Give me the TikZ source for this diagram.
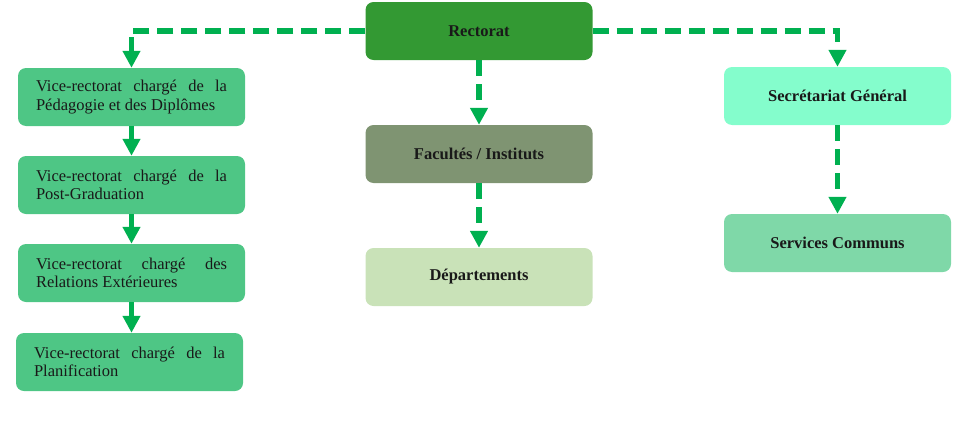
\documentclass[tikz,border=0pt]{standalone}
\usepackage{fontspec}
\setmainfont{Liberation Serif}
\usetikzlibrary{arrows.meta}
\definecolor{linkgreen}{HTML}{00B050}
\definecolor{rectgreen}{HTML}{339933}
\definecolor{facgreen}{HTML}{7F9472}
\definecolor{depgreen}{HTML}{C9E2B8}
\definecolor{vicegreen}{HTML}{4EC685}
\definecolor{sggreen}{HTML}{84FDCC}
\definecolor{scgreen}{HTML}{7FD8A8}
\newcommand\vicefont{\fontsize{16.5}{18.5}\selectfont\hyphenchar\font=-1\relax\tolerance=10000\relax}
\tikzset{
  unitbox/.style={rectangle,rounded corners=8pt,minimum width=227pt,minimum height=58pt,
    inner sep=0pt,font=\fontsize{16.5}{18.5}\selectfont\bfseries,text=black!90},
  vicebox/.style={unitbox,fill=vicegreen,font=\vicefont,
    text width=191pt,align=justify},
  dashlink/.style={linkgreen,line width=5.5pt,dash pattern=on 16pt off 8pt,
    -{Triangle[width=17pt,length=17pt]}},
  solidlink/.style={linkgreen,line width=5.5pt,-{Triangle[width=17pt,length=17pt]}}
}
\begin{document}
\begin{tikzpicture}[x=1pt,y=-1pt]
\useasboundingbox (0,0) rectangle (971,423);
% centre column
\node[unitbox,fill=rectgreen] (rect) at (479,31) {Rectorat};
\node[unitbox,fill=facgreen] (fac) at (479,154) {Facultés / Instituts};
\node[unitbox,fill=depgreen] (dep) at (479,277) {Départements};
% left column
\node[vicebox] (vr1) at (131.5,97) {Vice-rectorat chargé de la Pédagogie et des Diplômes};
\node[vicebox] (vr2) at (131.5,185) {Vice-rectorat chargé de la Post-Graduation};
\node[vicebox] (vr3) at (131.5,273) {Vice-rectorat chargé des Relations Extérieures};
\node[vicebox] (vr4) at (129.5,362) {Vice-rectorat chargé de la Planification};
% right column
\node[unitbox,fill=sggreen] (sg) at (837.5,96) {Secrétariat Général};
\node[unitbox,fill=scgreen] (sc) at (837.5,243) {Services Communs};
% links
\draw[dashlink] (rect.west) -| (vr1.north);
\draw[dashlink] (rect.east) -| (sg.north);
\draw[dashlink] (rect.south) -- (fac.north);
\draw[dashlink] (fac.south) -- (dep.north);
\draw[dashlink] (sg.south) -- (sc.north);
\draw[solidlink] (vr1.south) -- (vr2.north);
\draw[solidlink] (vr2.south) -- (vr3.north);
\draw[solidlink] (vr3.south) -- (vr3.south |- vr4.north);
\end{tikzpicture}
\end{document}
